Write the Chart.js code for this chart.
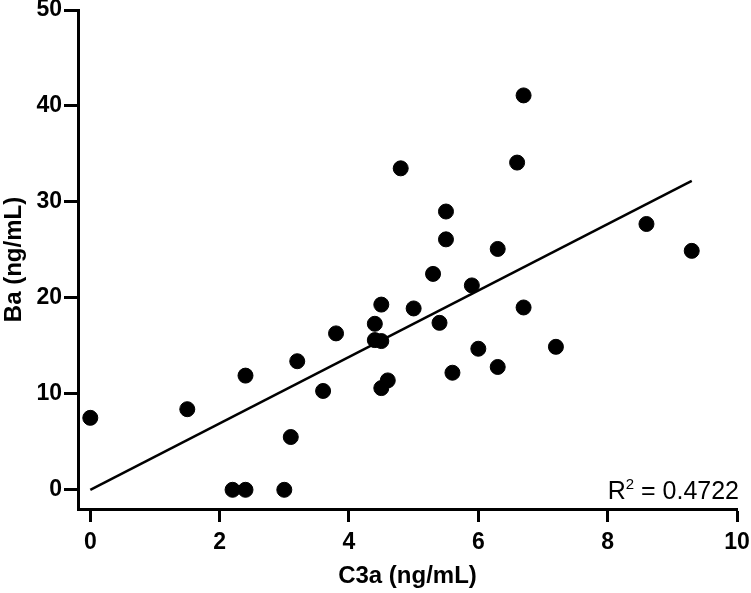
<!DOCTYPE html>
<html>
<head>
<meta charset="utf-8">
<script src="https://cdn.jsdelivr.net/npm/chart.js@4"></script>
<style>
  html, body { margin: 0; padding: 0; background: #fff; }
  #wrap { width: 751px; height: 593px; }
</style>
</head>
<body>
<div id="wrap"><canvas id="scatter-chart"></canvas></div>
<script>
// C3a (ng/mL) vs Ba (ng/mL)
const c3a = [0, 1.5, 2.2, 2.4, 2.4, 3.0, 3.1, 3.2, 3.6, 3.8, 4.4, 4.4, 4.5, 4.5, 4.5, 4.6, 4.8,
    5.0, 5.3, 5.4, 5.5, 5.5, 5.6, 5.9, 6.0, 6.3, 6.3, 6.6, 6.7, 6.7, 7.2, 8.6, 9.3];
const ba = [7.5, 8.4, 0, 0, 11.9, 0, 5.5, 13.4, 10.3, 16.3, 17.3, 15.6, 15.5, 19.3, 10.6, 11.4, 33.5,
    18.9, 22.5, 17.4, 29.0, 26.1, 12.2, 21.3, 14.7, 25.1, 12.8, 34.1, 41.1, 19.0, 14.9, 27.7, 24.9];
const fitX = [0, 9.3];
const fitY = [0, 32.2];
const r2Label = '0.4722';

const font = 'Liberation Sans, Arial, sans-serif';

const r2Plugin = {
    id: 'r2',
    afterDraw(chart) {
        const c = chart.ctx;
        const area = chart.chartArea;
        c.save();
        c.fillStyle = '#000';
        c.textBaseline = 'alphabetic';
        c.font = '25px ' + font;
        const rest = ' = ' + r2Label;
        const wRest = c.measureText(rest).width;
        const wR = c.measureText('R').width;
        c.font = '15px ' + font;
        const w2 = c.measureText('2').width;
        const right = area.right + 2;
        const base = area.bottom - 10;
        const x0 = right - wRest - w2 - wR;
        c.font = '25px ' + font;
        c.fillText('R', x0, base);
        c.font = '15px ' + font;
        c.fillText('2', x0 + wR, base - 10);
        c.font = '25px ' + font;
        c.fillText(rest, x0 + wR + w2, base);
        c.restore();
    }
};

const ctx = document.getElementById('scatter-chart').getContext('2d');
const myChart = new Chart(ctx, {
    type: 'scatter',
    data: {
        datasets: [{
            data: c3a.map((x, i) => ({x: x, y: ba[i]})),
            backgroundColor: '#000',
            borderColor: '#000',
            pointRadius: 7.5,
            pointHoverRadius: 7.5,
        }, {
            type: 'line',
            data: fitX.map((x, i) => ({x: x, y: fitY[i]})),
            borderColor: '#000',
            borderWidth: 2.5,
            pointRadius: 0,
            fill: false,
        }]
    },
    options: {
        responsive: true,
        maintainAspectRatio: false,
        animation: false,
        layout: {padding: {left: 0, top: 10, right: 14, bottom: 0}},
        plugins: {
            legend: {display: false},
            title: {display: false},
            tooltip: {enabled: false},
        },
        scales: {
            x: {
                type: 'linear',
                min: -0.19,
                max: 10,
                afterFit: (s) => { s.height = 84; s.paddingLeft = 0; s.paddingRight = 0; },
                border: {display: true, width: 3, color: '#000'},
                grid: {
                    drawOnChartArea: false,
                    drawTicks: true,
                    tickLength: 13,
                    tickWidth: 3,
                    tickColor: '#000',
                },
                ticks: {
                    stepSize: 2,
                    includeBounds: false,
                    padding: 7,
                    color: '#000',
                    font: {family: font, size: 23, weight: 'bold'},
                },
                title: {
                    display: true,
                    text: 'C3a (ng/mL)',
                    color: '#000',
                    padding: {top: 0, bottom: 2},
                    font: {family: font, size: 24, weight: 'bold'},
                },
            },
            y: {
                min: -2,
                max: 50,
                afterFit: (s) => { s.width = 78; s.paddingTop = 0; s.paddingBottom = 0; },
                border: {display: true, width: 3, color: '#000'},
                grid: {
                    drawOnChartArea: false,
                    drawTicks: true,
                    tickLength: 14,
                    tickWidth: 3,
                    tickColor: '#000',
                },
                ticks: {
                    stepSize: 10,
                    includeBounds: false,
                    padding: 2,
                    color: '#000',
                    font: {family: font, size: 23, weight: 'bold'},
                },
                title: {
                    display: true,
                    text: 'Ba (ng/mL)',
                    color: '#000',
                    padding: {top: 0, bottom: 0},
                    font: {family: font, size: 24, weight: 'bold'},
                },
            },
        },
    },
    plugins: [r2Plugin],
});
</script>
</body>
</html>
